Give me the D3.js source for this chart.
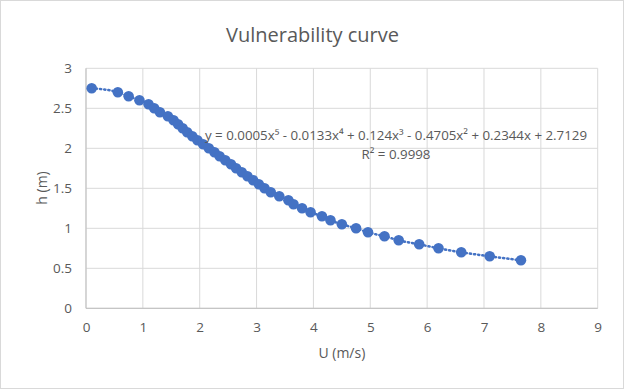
<!DOCTYPE html>
<html><head><meta charset="utf-8">
<script src="https://cdn.jsdelivr.net/npm/d3@7"></script>
<style>html,body{margin:0;padding:0;background:#fff;}</style>
</head><body>
<svg id="chart" width="624" height="389"></svg>
<script>
// Data
const hValues = [2.75,2.70,2.65,2.60,2.55,2.50,2.45,2.40,2.35,2.30,2.25,2.20,2.15,2.10,2.05,2.00,1.95,1.90,1.85,1.80,1.75,1.70,1.65,1.60,1.55,1.50,1.45,1.40,1.35,1.30,1.25,1.20,1.15,1.10,1.05,1.00,0.95,0.90,0.85,0.80,0.75,0.70,0.65,0.60];
const uValues = [0.10,0.56,0.75,0.94,1.10,1.20,1.30,1.44,1.54,1.62,1.70,1.78,1.87,1.96,2.06,2.16,2.26,2.35,2.45,2.55,2.64,2.74,2.84,2.94,3.04,3.14,3.25,3.40,3.56,3.65,3.80,3.95,4.15,4.30,4.50,4.75,4.96,5.25,5.50,5.86,6.20,6.60,7.10,7.65];
const xTicks = [0,1,2,3,4,5,6,7,8,9];
const yTicks = [0,0.5,1,1.5,2,2.5,3];
const title = "Vulnerability curve";
const xTitle = "U (m/s)";
const yTitle = "h (m)";
const equation = "y = 0.0005x⁵ - 0.0133x⁴ + 0.124x³ - 0.4705x² + 0.2344x + 2.7129";
const rSquared = "R² = 0.9998";

(function(){
const svg = d3.select("#chart");
const W = 624, H = 389;
const pl = 86, pr = 597.7, pt = 68.3, pb = 308.3;
const font = "'Open Sans', sans-serif";
const textColor = "#595959";
const blue = "#4472C4";

svg.append("rect").attr("x",0.5).attr("y",0.5).attr("width",W-1).attr("height",H-1)
  .attr("fill","#fff").attr("stroke","#d9d9d9");

const x = d3.scaleLinear().domain([0,9]).range([pl,pr]);
const y = d3.scaleLinear().domain([0,3]).range([pb,pt]);

const g = svg.append("g");
g.selectAll("line.v").data(xTicks).join("line").attr("class","v")
  .attr("x1",d=>x(d)).attr("x2",d=>x(d)).attr("y1",pt).attr("y2",pb)
  .attr("stroke","#d9d9d9").attr("stroke-width",1);
g.selectAll("line.h").data(yTicks).join("line").attr("class","h")
  .attr("x1",pl).attr("x2",pr).attr("y1",d=>y(d)).attr("y2",d=>y(d))
  .attr("stroke","#d9d9d9").attr("stroke-width",1);
g.append("line").attr("x1",pl).attr("x2",pr).attr("y1",pb).attr("y2",pb).attr("stroke","#bfbfbf");
g.append("line").attr("x1",pl).attr("x2",pl).attr("y1",pt).attr("y2",pb).attr("stroke","#bfbfbf");

const xAxis = svg.append("g").attr("transform",`translate(0,${pb})`)
  .call(d3.axisBottom(x).tickValues(xTicks).tickSize(0).tickPadding(14).tickFormat(d3.format("d")));
const yAxis = svg.append("g").attr("transform",`translate(${pl},0)`)
  .call(d3.axisLeft(y).tickValues(yTicks).tickSize(0).tickPadding(14).tickFormat(d=>String(d)));
[xAxis,yAxis].forEach(a=>{
  a.select(".domain").remove();
  a.selectAll("text").attr("font-family",font).attr("font-size",13.5).attr("fill",textColor);
});

const pts = uValues.map((u,i)=>[u,hValues[i]]);
svg.append("path").datum(pts)
  .attr("d", d3.line().x(d=>x(d[0])).y(d=>y(d[1])).curve(d3.curveMonotoneX))
  .attr("fill","none").attr("stroke",blue).attr("stroke-width",2.5)
  .attr("stroke-dasharray","1.2 3").attr("stroke-linecap","round");

svg.append("g").selectAll("circle").data(pts).join("circle")
  .attr("cx",d=>x(d[0])).attr("cy",d=>y(d[1])).attr("r",5.3).attr("fill",blue);

svg.append("text").attr("x",312.5).attr("y",42).attr("text-anchor","middle")
  .attr("font-family",font).attr("font-size",20).attr("fill",textColor).text(title);

svg.append("text").attr("x",x(4.5)).attr("y",358).attr("text-anchor","middle")
  .attr("font-family",font).attr("font-size",14).attr("fill",textColor).text(xTitle);
svg.append("text").attr("transform","translate(47,188) rotate(-90)").attr("text-anchor","middle")
  .attr("font-family",font).attr("font-size",14).attr("fill",textColor).text(yTitle);

svg.append("text").attr("x",396).attr("y",140).attr("text-anchor","middle")
  .attr("font-family",font).attr("font-size",13.5).attr("fill",textColor)
  .attr("textLength",382).attr("lengthAdjust","spacingAndGlyphs").text(equation);
svg.append("text").attr("x",396).attr("y",158.5).attr("text-anchor","middle")
  .attr("font-family",font).attr("font-size",13.5).attr("fill",textColor)
  .attr("textLength",69).attr("lengthAdjust","spacingAndGlyphs").text(rSquared);
})();
</script>
</body></html>
